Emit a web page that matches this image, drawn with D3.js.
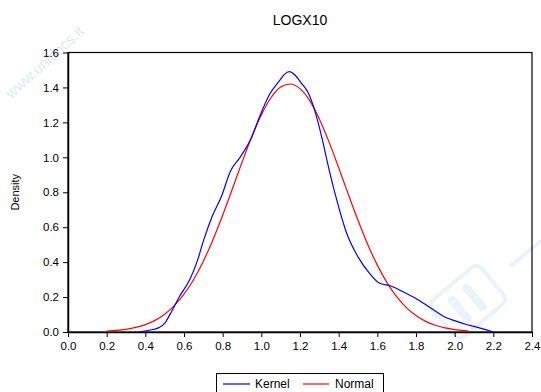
<!DOCTYPE html>
<html><head><meta charset="utf-8">
<script src="https://cdn.jsdelivr.net/npm/d3@7"></script>
<style>
html,body{margin:0;padding:0;background:#fff;}
svg{display:block;font-family:"Liberation Sans",Arial,sans-serif;}
</style></head>
<body>
<svg id="c" width="541" height="392"></svg>
<script>
const title = "LOGX10";
const yLabel = "Density";
const xTicks = [0.0,0.2,0.4,0.6,0.8,1.0,1.2,1.4,1.6,1.8,2.0,2.2,2.4];
const yTicks = [0.0,0.2,0.4,0.6,0.8,1.0,1.2,1.4,1.6];
const seriesNames = ["Kernel","Normal"];
const seriesColors = ["#0000ff","#ff0000"];

const kernelX = [0.365,0.42,0.47,0.50,0.53,0.575,0.63,0.67,0.70,0.745,0.795,0.84,0.89,0.95,0.99,1.045,1.095,1.12,1.145,1.175,1.21,1.24,1.27,1.32,1.34,1.39,1.44,1.50,1.56,1.61,1.67,1.73,1.81,1.89,1.96,2.00,2.06,2.10,2.20];
const kernelY = [0.0,0.01,0.025,0.05,0.105,0.20,0.30,0.41,0.52,0.66,0.78,0.92,1.00,1.115,1.23,1.365,1.44,1.475,1.49,1.47,1.42,1.375,1.29,1.08,0.98,0.756,0.57,0.43,0.335,0.28,0.263,0.232,0.185,0.128,0.08,0.065,0.043,0.032,0.0];

const normalX = [0.20,0.25,0.30,0.35,0.40,0.45,0.50,0.55,0.60,0.65,0.70,0.75,0.80,0.85,0.90,0.95,1.00,1.05,1.10,1.15,1.20,1.25,1.30,1.35,1.40,1.45,1.50,1.55,1.60,1.65,1.70,1.75,1.80,1.85,1.90,1.95,2.00,2.05,2.07];
const normalY = [0.005,0.0089,0.0155,0.026,0.0422,0.0667,0.1019,0.1509,0.2165,0.3009,0.4053,0.5287,0.6683,0.8183,0.971,1.1161,1.243,1.341,1.402,1.4198,1.393,1.3243,1.2196,1.0883,0.9408,0.7879,0.6393,0.5025,0.3828,0.2825,0.2019,0.1399,0.0939,0.061,0.0384,0.0234,0.0139,0.0079,0.0063];

const svg = d3.select("#c");
const L = 68, R = 532, T = 52.5, B = 332;
const x = d3.scaleLinear().domain([0,2.4]).range([L,R]);
const y = d3.scaleLinear().domain([0,1.6]).range([B,T]);

// watermark
const wm = svg.append("g").attr("fill","#d3e3f5").attr("opacity",0.8);
wm.append("text").attr("transform","translate(48,66) rotate(-42)")
  .attr("text-anchor","middle").attr("font-size",15).text("www.unidocs.it");
const logo = svg.append("g").attr("transform","translate(468,302) rotate(-40)")
  .attr("fill","none").attr("stroke","#e2edf9").attr("opacity",0.7);
logo.append("rect").attr("x",-32).attr("y",-24).attr("width",64).attr("height",48).attr("rx",7).attr("stroke-width",4);
logo.append("line").attr("x1",-11).attr("y1",-12).attr("x2",-11).attr("y2",13).attr("stroke-width",8).attr("stroke-linecap","round");
logo.append("line").attr("x1",8).attr("y1",-12).attr("x2",8).attr("y2",13).attr("stroke-width",8).attr("stroke-linecap","round");
logo.append("line").attr("x1",55).attr("y1",0).attr("x2",140).attr("y2",0).attr("stroke-width",4);

// frame
svg.append("rect").attr("x",L).attr("y",T).attr("width",R-L).attr("height",B-T)
  .attr("fill","none").attr("stroke","#000").attr("stroke-width",1.2);

const fmt = d3.format(".1f");
const xAxis = svg.append("g").attr("transform",`translate(0,${B})`)
  .call(d3.axisBottom(x).tickValues(xTicks).tickFormat(fmt).tickSize(5).tickSizeOuter(0));
const yAxis = svg.append("g").attr("transform",`translate(${L},0)`)
  .call(d3.axisLeft(y).tickValues(yTicks).tickFormat(fmt).tickSize(5).tickSizeOuter(0));
[xAxis,yAxis].forEach(a=>{
  a.select(".domain").attr("stroke","#000").attr("stroke-width",1.5);
  a.selectAll(".tick line").attr("stroke","#000");
  a.selectAll(".tick text").attr("font-size",11.5).attr("fill","#000")
   .attr("font-family","'Liberation Sans',Arial,sans-serif");
});
xAxis.selectAll(".tick text").attr("dy","0.71em").attr("y",10);
yAxis.selectAll(".tick text").attr("x",-9);

// curves
const line = d3.line().x(d=>x(d[0])).y(d=>y(d[1])).curve(d3.curveMonotoneX);
const normalData = normalX.map((v,i)=>[v,normalY[i]]);
const kernelData = kernelX.map((v,i)=>[v,kernelY[i]]);
svg.append("path").datum(normalData).attr("d",line).attr("fill","none")
  .attr("stroke",seriesColors[1]).attr("stroke-width",1.2);
svg.append("path").datum(kernelData).attr("d",line).attr("fill","none")
  .attr("stroke",seriesColors[0]).attr("stroke-width",1.2);

// title
svg.append("text").attr("x",(L+R)/2).attr("y",25).attr("text-anchor","middle")
  .attr("font-size",14).text(title);
// y label
svg.append("text").attr("transform",`translate(19,${(T+B)/2}) rotate(-90)`)
  .attr("text-anchor","middle").attr("font-size",11).text(yLabel);

// legend
const lg = svg.append("g");
lg.append("rect").attr("x",216.5).attr("y",373.5).attr("width",167).attr("height",20)
  .attr("fill","#fff").attr("stroke","#000").attr("stroke-width",1);
const items = [{x1:223,x2:250,tx:255},{x1:303,x2:329,tx:335}];
items.forEach((it,i)=>{
  lg.append("line").attr("x1",it.x1).attr("x2",it.x2).attr("y1",384).attr("y2",384)
    .attr("stroke",seriesColors[i]).attr("stroke-width",1.2);
  lg.append("text").attr("x",it.tx).attr("y",388).attr("font-size",12).text(seriesNames[i]);
});
</script>
</body></html>
